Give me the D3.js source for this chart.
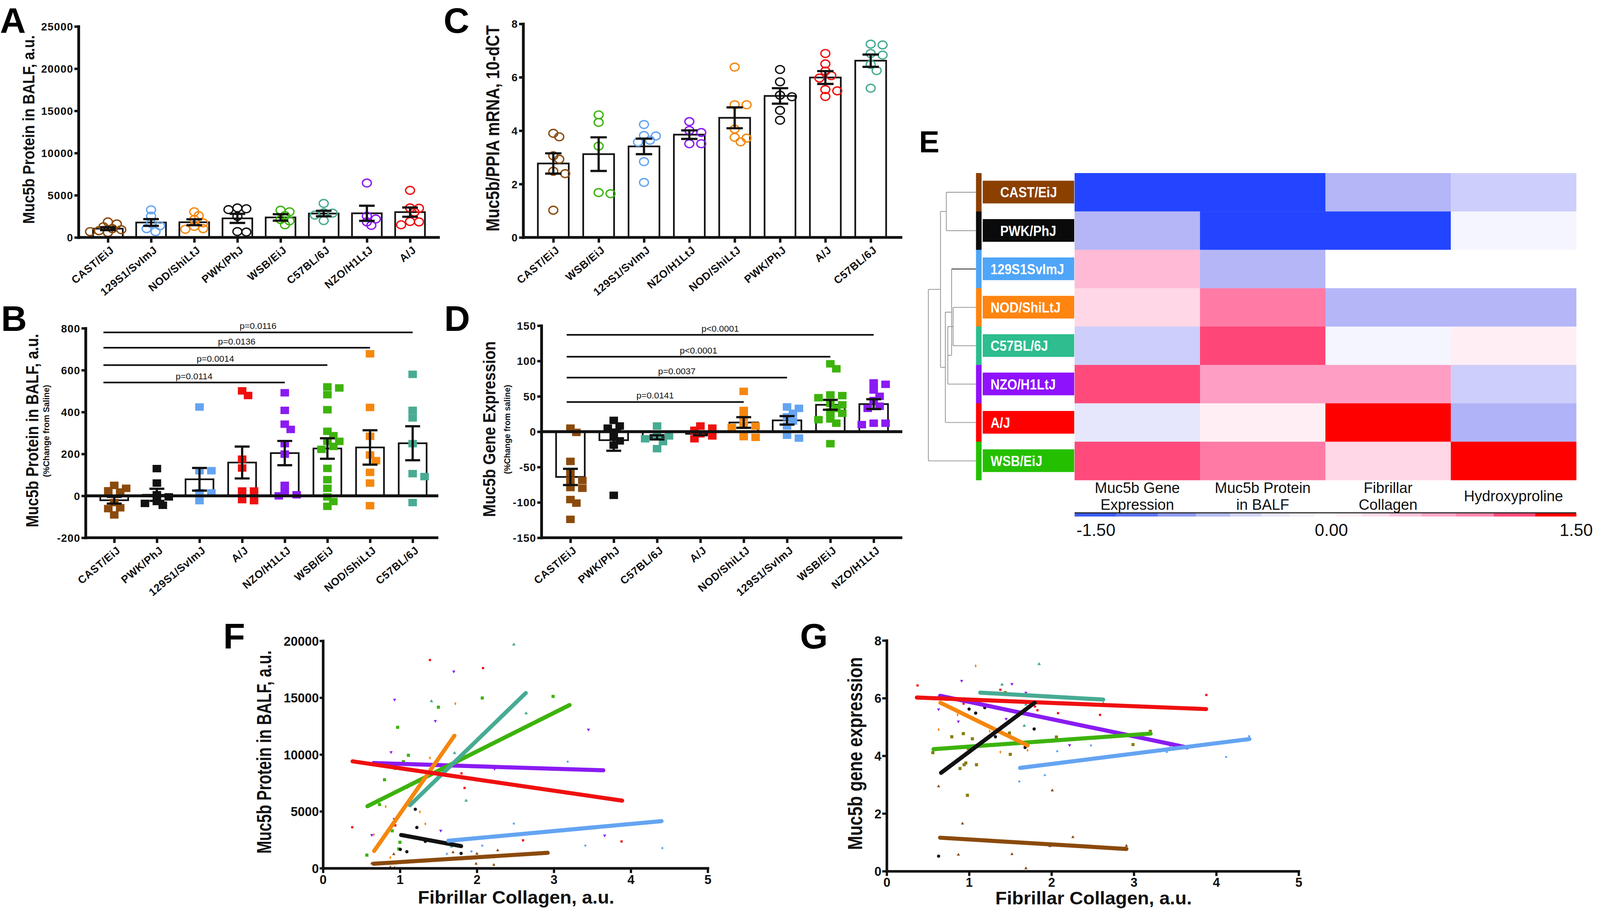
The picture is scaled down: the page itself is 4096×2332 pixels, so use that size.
<!DOCTYPE html>
<html>
<head>
<meta charset="utf-8">
<script src="https://cdn.jsdelivr.net/npm/d3@7"></script>
<style>
    html, body { margin: 0; padding: 0; background: #fff; overflow: hidden; }
    svg { display: block; }
    text { font-family: "Liberation Sans", Arial, Helvetica, sans-serif; }
</style>
</head>
<body>
<svg id="figure"></svg>
<script>
"use strict";

// ---------------------------------------------------------------- data
// A: Muc5b protein in BALF (a.u.)
const aOrder = ["CAST/EiJ", "129S1/SvImJ", "NOD/ShiLtJ", "PWK/PhJ", "WSB/EiJ", "C57BL/6J", "NZO/H1LtJ", "A/J"];
const aMean = [1040, 1770, 1800, 2260, 2370, 2830, 2860, 3000];
const aSem = [180, 400, 350, 540, 380, 325, 900, 550];
const aPoints = [
    [1840, 1600, 1270, 1040, 920, 800, 690, 580],
    [3270, 2530, 1660, 1380, 1040, 690],
    [3040, 2580, 2120, 1730, 1310, 970, 1040],
    [3500, 3400, 3300, 2500, 700, 640],
    [3230, 3040, 2580, 2120, 1960, 1500],
    [4030, 2930, 2880, 2650, 2000],
    [6450, 2530, 2190, 1840, 1430],
    [5580, 3500, 3460, 3000, 1890, 1840, 1500]
];
const aTicks = [0, 5000, 10000, 15000, 20000, 25000];

// C: Muc5b/PPIA mRNA, 10-dCT
const cOrder = ["CAST/EiJ", "WSB/EiJ", "129S1/SvImJ", "NZO/H1LtJ", "NOD/ShiLtJ", "PWK/PhJ", "A/J", "C57BL/6J"];
const cMean = [2.77, 3.12, 3.41, 3.85, 4.48, 5.30, 5.99, 6.62];
const cSem = [0.38, 0.63, 0.29, 0.16, 0.39, 0.29, 0.24, 0.23];
const cPoints = [
    [3.90, 3.77, 3.06, 2.93, 2.48, 2.39, 1.02],
    [4.59, 4.31, 3.42, 1.64, 1.68],
    [4.23, 3.80, 3.82, 3.57, 3.64, 2.84, 2.06],
    [4.34, 4.01, 3.93, 3.51, 3.51],
    [6.38, 4.97, 4.97, 4.06, 3.75, 3.72, 3.58],
    [6.29, 5.83, 5.33, 5.27, 4.76, 4.39],
    [6.89, 6.50, 6.23, 6.06, 5.97, 5.54, 5.49, 5.28],
    [7.21, 7.24, 6.83, 6.89, 6.48, 6.25, 5.59]
];
const cTicks = [0, 2, 4, 6, 8];

// B: Muc5b protein, % change from saline
const bOrder = ["CAST/EiJ", "PWK/PhJ", "129S1/SvImJ", "A/J", "NZO/H1LtJ", "WSB/EiJ", "NOD/ShiLtJ", "C57BL/6J"];
const bMean = [-21, 5, 79, 159, 204, 226, 231, 251];
const bSem = [16, 29, 54, 76, 58, 49, 82, 81];
const bPoints = [
    [50, 36, 24, 18, -32, -57, -61, -91],
    [130, 61, 5, -5, -27, -36, -45],
    [424, 120, 120, 14, 15, -23],
    [501, 479, 175, 133, 23, 23, -23, -18],
    [492, 408, 342, 317, 249, 199, 50, 18, 5, 0],
    [520, 515, 483, 411, 308, 287, 260, 260, 236, 222, 131, 77, 36, -5, -27, -50],
    [678, 422, 284, 195, 168, 112, 61, -47],
    [580, 408, 372, 249, 106, 92, -32]
];
const bTicks = [-200, 0, 200, 400, 600, 800];
const bSigLabels = ["p=0.0116", "p=0.0136", "p=0.0014", "p=0.0114"];
const bSigTo = ["C57BL/6J", "NOD/ShiLtJ", "WSB/EiJ", "NZO/H1LtJ"];
const bSigLevel = [780, 707, 624, 541];

// D: Muc5b gene expression, % change from saline
const dOrder = ["CAST/EiJ", "PWK/PhJ", "C57BL/6J", "A/J", "NOD/ShiLtJ", "129S1/SvImJ", "WSB/EiJ", "NZO/H1LtJ"];
const dMean = [-64, -12, -8, -3, 13, 16, 38, 39];
const dSem = [11.5, 15, 3, 2, 7.5, 6, 7, 7];
const dPoints = [
    [5, -1, -42, -58, -69, -69, -80, -79, -96, -101, -124],
    [16, 8, 5, -13, -7, -19, -90],
    [8, -6, -6, -10, -14, -24],
    [5, 8, 2, -3, -6, -10],
    [57, 30, 20, 9, 8, 6, -7, -8],
    [33, 35, 26, 21, 15, 8, -5, -9],
    [96, 89, 52, 51, 48, 40, 38, 33, 26, 28, 18, 17, 12, -17],
    [69, 67, 59, 50, 44, 36, 33, 12, 12, 10]
];
const dTicks = [-150, -100, -50, 0, 50, 100, 150];
const dSigLabels = ["p<0.0001", "p<0.0001", "p=0.0037", "p=0.0141"];
const dSigTo = ["NZO/H1LtJ", "WSB/EiJ", "129S1/SvImJ", "NOD/ShiLtJ"];
const dSigLevel = [137, 106, 76.5, 42];

// E: heat map (z-scores)
const heatCols = ["Muc5b Gene|Expression", "Muc5b Protein|in BALF", "Fibrillar|Collagen", "Hydroxyproline"];
const heatRows = ["CAST/EiJ", "PWK/PhJ", "129S1/SvImJ", "NOD/ShiLtJ", "C57BL/6J", "NZO/H1LtJ", "A/J", "WSB/EiJ"];
const heatRowLabels = ["CAST/EiJ", "PWK/PhJ", "129S1SvImJ", "NOD/ShiLtJ", "C57BL/6J", "NZO/H1LtJ", "A/J", "WSB/EiJ"];
const heatValues = [
    [-1.5, -1.5, -0.6, -0.4],
    [-0.6, -1.5, -1.5, -0.08],
    [0.42, -0.6, 0, 0],
    [0.25, 0.8, -0.6, -0.6],
    [-0.4, 1.1, -0.08, 0.1],
    [1.08, 0.6, 0.6, -0.4],
    [-0.2, 0.1, 1.5, -0.62],
    [1.08, 0.8, 0.25, 1.5]
];
// dendrogram: children are leaf names or indices of earlier merges
const dendroMerges = [
    ["CAST/EiJ", "PWK/PhJ"],
    ["NOD/ShiLtJ", "C57BL/6J"],
    [1, "NZO/H1LtJ"],
    ["129S1/SvImJ", 2],
    [3, "A/J"],
    [0, 4],
    [5, "WSB/EiJ"]
];
const dendroHeights = [0.623, 0.481, 0.592, 0.512, 0.644, 0.745, 1.0];
const cbBreaks = [-1.5, -1.252, -1.003, -0.775, -0.57, -0.383, -0.214, -0.064, 0.066, 0.219, 0.384, 0.576, 0.781, 1.007, 1.256, 1.5];
const cbTicks = [-1.5, 0, 1.5];

// F: Muc5b protein vs fibrillar collagen, points [collagen, protein]
const fStrains = ["NZO/H1LtJ", "WSB/EiJ", "C57BL/6J", "NOD/ShiLtJ", "A/J", "PWK/PhJ", "129S1/SvImJ", "CAST/EiJ"];
const fPoints = [
    [[1.70, 17300], [0.93, 14820], [1.46, 12950], [3.45, 12190], [0.885, 10210], [0.925, 4320], [0.635, 2920], [1.53, 3300], [3.66, 2870], [2.23, 8730]],
    [[2.07, 14970], [2.99, 15110], [1.50, 14160], [0.97, 12390], [1.11, 9930], [1.045, 9370], [0.94, 8780], [0.80, 7780], [1.51, 8190], [3.20, 8740], [0.735, 5600], [0.95, 4290], [0.90, 3290], [1.0, 2280], [0.985, 1690], [0.57, 1150]],
    [[2.48, 19670], [1.41, 14690], [2.64, 13620], [1.71, 10130], [1.86, 5940], [1.67, 1910]],
    [[1.72, 14470], [1.39, 9700], [0.815, 5420], [1.26, 4950], [1.33, 3900], [1.10, 7090], [0.66, 2940], [0.875, 930]],
    [[1.39, 18310], [2.08, 17600], [1.80, 8340], [1.84, 7060], [0.38, 3600], [0.94, 3760], [2.60, 2450], [3.88, 2350]],
    [[1.20, 5180], [1.22, 3580], [1.005, 1650], [1.09, 1450], [1.795, 1300], [1.33, 2360]],
    [[3.18, 9370], [2.48, 3920], [3.41, 1990], [2.07, 1980], [1.93, 1470], [1.61, 1270], [4.41, 1770]],
    [[0.92, 1230], [1.69, 1400], [2.0, 1270], [2.27, 1570], [1.99, 390], [2.22, 290], [0.635, 420], [0.875, 80], [0.93, 30], [1.52, 680]]
];
// fitted lines [x1, y1, x2, y2]
const fLines = [
    [0.657, 9250, 3.643, 8610],
    [0.578, 5450, 3.205, 14350],
    [1.13, 5540, 2.636, 15410],
    [0.665, 1520, 1.708, 11650],
    [0.385, 9400, 3.888, 5940],
    [1.016, 2920, 1.795, 1940],
    [1.629, 2410, 4.40, 4140],
    [0.657, 390, 2.92, 1350]
];
const fTicksY = [0, 5000, 10000, 15000, 20000];

// G: Muc5b gene expression vs fibrillar collagen
const gStrains = ["NZO/H1LtJ", "WSB/EiJ", "C57BL/6J", "A/J", "NOD/ShiLtJ", "PWK/PhJ", "129S1/SvImJ", "CAST/EiJ"];
const gPoints = [
    [[0.91, 6.60], [1.52, 6.49], [1.69, 6.19], [0.63, 5.61], [0.87, 5.19], [1.45, 5.28], [2.22, 4.37], [3.44, 4.36], [3.65, 4.31]],
    [[0.73, 5.96], [1.44, 6.19], [1.49, 4.79], [0.93, 4.77], [1.04, 4.59], [0.79, 4.66], [0.56, 4.11], [0.99, 4.25], [0.96, 3.75], [0.94, 3.69], [1.09, 3.69], [0.89, 3.56], [1.50, 4.05], [2.06, 4.65], [2.99, 4.39], [3.20, 4.85], [0.98, 2.63]],
    [[1.85, 7.18], [1.40, 6.47], [1.69, 5.78], [2.63, 5.82], [1.67, 5.04]],
    [[0.374, 6.44], [1.38, 6.29], [0.934, 5.81], [1.80, 5.71], [1.83, 5.58], [2.08, 5.48], [2.59, 5.42], [3.88, 6.11]],
    [[1.08, 7.12], [0.63, 4.91], [0.86, 5.42], [1.25, 4.85], [1.38, 4.13], [1.71, 4.19], [0.82, 5.96]],
    [[1.21, 6.19], [1.0, 5.62], [1.08, 5.48], [1.19, 5.67], [1.32, 4.66], [1.79, 4.93], [1.68, 4.29], [0.63, 0.52]],
    [[4.40, 4.68], [3.18, 4.59], [2.48, 4.36], [2.07, 4.16], [3.40, 4.13], [4.12, 3.96], [1.92, 3.33], [1.61, 3.11]],
    [[0.63, 2.94], [2.01, 2.80], [0.92, 1.65], [2.26, 1.18], [2.91, 0.88], [1.98, 0.87], [0.87, 0.57], [1.52, 0.59], [1.69, 0.10]]
];
const gLines = [
    [0.648, 6.08, 3.646, 4.29],
    [0.568, 4.23, 3.204, 4.77],
    [1.135, 6.19, 2.628, 5.95],
    [0.366, 6.02, 3.877, 5.62],
    [0.652, 5.84, 1.711, 4.36],
    [0.66, 3.41, 1.796, 5.84],
    [1.619, 3.58, 4.403, 4.58],
    [0.648, 1.16, 2.91, 0.77]
];
const gTicksY = [0, 2, 4, 6, 8];
const collagenTicks = [0, 1, 2, 3, 4, 5];

// ---------------------------------------------------------------- styles
const plotColor = {
    "CAST/EiJ": "#8b4a0c", "PWK/PhJ": "#111111", "129S1/SvImJ": "#64a4f2", "NOD/ShiLtJ": "#f5870f",
    "C57BL/6J": "#48ab93", "NZO/H1LtJ": "#8a1bf2", "A/J": "#ef1010", "WSB/EiJ": "#3db30e"
};
const boxColor = {
    "CAST/EiJ": "#8b4000", "PWK/PhJ": "#0a0a0a", "129S1/SvImJ": "#4fa5f7", "NOD/ShiLtJ": "#ff8410",
    "C57BL/6J": "#2dbd8e", "NZO/H1LtJ": "#8e12fb", "A/J": "#ff0000", "WSB/EiJ": "#24c000"
};
const cbColors = ["#3a5cf0", "#5b74f0", "#8c9af2", "#b4bcf6", "#d2d4f8", "#e6e6fa", "#f2f2fb", "#ffffff",
    "#ffeef4", "#ffdcea", "#ffc4dc", "#ffa8c8", "#ff88b0", "#ff4a78", "#ff0000"];
const ink = "#111";

// the reference is 4300 x 2448, the window is 0.952 of that
const svg = d3.select("#figure")
    .attr("width", 4096)
    .attr("height", 2332)
    .attr("viewBox", "0 0 4300 2448");

/**
 * simple beeswarm: offsets so markers of a group do not sit on top of each other
 */
function swarm(vals, y, minD, step) {
    const idx = d3.range(vals.length).sort((a, b) => d3.descending(vals[a], vals[b]));
    const off = new Array(vals.length).fill(0);
    const placed = [];
    idx.forEach(i => {
        const py = y(vals[i]);
        for (let k = 0; k < 40; k++) {
            const o = (k % 2 ? 1 : -1) * Math.ceil(k / 2) * step;
            if (placed.every(p => Math.hypot(p[0] - o, p[1] - py) >= minD)) {
                off[i] = o;
                placed.push([o, py]);
                break;
            }
        }
    });
    return off;
}

function styleAxis(ax, fs, width) {
    ax.select(".domain").attr("stroke", ink).attr("stroke-width", width).attr("stroke-linecap", "square");
    ax.selectAll(".tick line").attr("stroke", ink).attr("stroke-width", width - 1);
    ax.selectAll(".tick text").attr("fill", ink).attr("font-size", fs).attr("font-weight", "bold")
        .style("font-family", '"Liberation Sans", Arial, sans-serif');
}

/**
 * rotated axis title, squeezed along its length to the measured span
 */
function yLabel(txt, bx, cy, fs, len, weight) {
    const t = svg.append("text")
        .attr("text-anchor", "middle")
        .attr("font-size", fs)
        .attr("font-weight", weight || "bold")
        .attr("fill", ink)
        .text(txt);
    const natural = t.node().getComputedTextLength() || len;
    t.attr("transform", `translate(${bx},${cy}) rotate(-90) scale(${len / natural},1)`);
}

/** ==============================================================================
 * bar + dot panels (A, B, C, D)
 ================================================================================ */
function barPanel(p) {
    const g = svg.append("g");
    const x = d3.scalePoint().domain(p.order).range([p.x0, p.x1]);
    const y = d3.scaleLinear().domain(p.domain).range([p.yBottom, p.yTop]);
    const base = y(0);

    g.append("g").selectAll("rect").data(p.order).join("rect")
        .attr("x", d => x(d) - p.barW / 2)
        .attr("width", p.barW)
        .attr("y", (d, i) => Math.min(y(p.mean[i]), base))
        .attr("height", (d, i) => Math.abs(y(p.mean[i]) - base))
        .attr("fill", "#fff")
        .attr("stroke", ink)
        .attr("stroke-width", 4.5);

    p.order.forEach((s, i) => {
        const off = swarm(p.points[i], y, p.minD, p.step);
        const grp = g.append("g");
        if (p.open) {
            grp.selectAll("ellipse").data(p.points[i]).join("ellipse")
                .attr("cx", (d, j) => x(s) + off[j])
                .attr("cy", d => y(d))
                .attr("rx", 12).attr("ry", 10.5)
                .attr("fill", "none")
                .attr("stroke", plotColor[s])
                .attr("stroke-width", 3.6);
        } else {
            grp.selectAll("rect").data(p.points[i]).join("rect")
                .attr("x", (d, j) => x(s) + off[j] - 11.5)
                .attr("y", d => y(d) - 10)
                .attr("width", 23).attr("height", 20)
                .attr("fill", plotColor[s]);
        }
    });

    // mean +- SEM
    const eb = g.append("g").attr("stroke", ink).attr("stroke-width", 6);
    p.order.forEach((s, i) => {
        const cx = x(s), hi = y(p.mean[i] + p.sem[i]), lo = y(p.mean[i] - p.sem[i]);
        eb.append("line").attr("x1", cx).attr("x2", cx).attr("y1", hi).attr("y2", lo);
        [hi, lo].forEach(v => eb.append("line")
            .attr("x1", cx - p.capW / 2).attr("x2", cx + p.capW / 2)
            .attr("y1", v).attr("y2", v));
    });

    // zero line for % change panels
    if (p.domain[0] < 0) {
        g.append("line")
            .attr("x1", p.axisLeft).attr("x2", p.right)
            .attr("y1", base).attr("y2", base)
            .attr("stroke", ink).attr("stroke-width", 8);
    }

    // significance brackets
    if (p.sigLabels) {
        const sg = g.append("g");
        p.sigLabels.forEach((lab, i) => {
            const x1 = x(p.order[0]) + p.sigStart, x2 = x(p.sigTo[i]), yy = y(p.sigLevel[i]);
            sg.append("line").attr("x1", x1).attr("x2", x2).attr("y1", yy).attr("y2", yy)
                .attr("stroke", ink).attr("stroke-width", 4.5);
            sg.append("text").attr("x", (x1 + x2) / 2).attr("y", yy - 9)
                .attr("text-anchor", "middle").attr("font-size", 24).attr("fill", ink)
                .text(lab);
        });
    }

    // axes
    g.append("line")
        .attr("x1", p.axisLeft - 3).attr("x2", p.right)
        .attr("y1", p.yBottom).attr("y2", p.yBottom)
        .attr("stroke", ink).attr("stroke-width", 7.5);

    const ay = g.append("g").attr("transform", `translate(${p.axisLeft},0)`)
        .call(d3.axisLeft(y).tickValues(p.ticks).tickSize(11).tickPadding(3).tickSizeOuter(0)
            .tickFormat(d => String(d)));
    styleAxis(ay, 29, 7.5);
    ay.selectAll(".tick text").attr("letter-spacing", 1.2).attr("dy", "0.36em");

    const axb = g.append("g").attr("transform", `translate(0,${p.yBottom})`)
        .call(d3.axisBottom(x).tickSize(14).tickSizeOuter(0));
    styleAxis(axb, 29, 7.5);
    axb.select(".domain").remove();
    axb.selectAll(".tick text")
        .attr("x", 0).attr("y", 0).attr("dy", 0)
        .attr("text-anchor", "end")
        .attr("letter-spacing", 1)
        .attr("transform", "translate(18,37) rotate(-40)");
}

barPanel({
    order: aOrder, mean: aMean, sem: aSem, points: aPoints, ticks: aTicks, domain: [0, 25000],
    x0: 290, x1: 1102, yBottom: 638, yTop: 71, axisLeft: 211, right: 1182,
    barW: 80, capW: 42, open: true, minD: 15, step: 12
});
barPanel({
    order: cOrder, mean: cMean, sem: cSem, points: cPoints, ticks: cTicks, domain: [0, 8],
    x0: 1487, x1: 2340, yBottom: 638, yTop: 64, axisLeft: 1406, right: 2425,
    barW: 83, capW: 44, open: true, minD: 18, step: 16
});
barPanel({
    order: bOrder, mean: bMean, sem: bSem, points: bPoints, ticks: bTicks, domain: [-200, 800],
    x0: 307, x1: 1109, yBottom: 1445, yTop: 882, axisLeft: 230, right: 1178,
    barW: 75, capW: 40, open: false, minD: 18, step: 16,
    sigLabels: bSigLabels, sigTo: bSigTo, sigLevel: bSigLevel, sigStart: -29
});
barPanel({
    order: dOrder, mean: dMean, sem: dSem, points: dPoints, ticks: dTicks, domain: [-150, 150],
    x0: 1533, x1: 2348, yBottom: 1445, yTop: 875, axisLeft: 1455, right: 2425,
    barW: 77, capW: 40, open: false, minD: 18, step: 16,
    sigLabels: dSigLabels, sigTo: dSigTo, sigLevel: dSigLevel, sigStart: -10
});

yLabel("Muc5b Protein in BALF, a.u.", 92, 348, 44, 507);
yLabel("Muc5b/PPIA mRNA, 10-dCT", 1342, 345, 50, 554);
yLabel("Muc5b Protein in BALF, a.u.", 103, 1157, 47, 520);
yLabel("(%Change from Saline)", 132, 1158, 24, 248);
yLabel("Muc5b Gene Expression", 1331, 1153, 46, 472);
yLabel("(%Change from saline)", 1371, 1154, 24, 240);

/** ==============================================================================
 * heat map with dendrogram (E)
 ================================================================================ */
(function () {
    const g = svg.append("g");
    const col = d3.scaleBand().domain(heatCols).range([2888, 4236]);
    const row = d3.scaleBand().domain(heatRows).range([465, 1290]);
    const heat = d3.scaleLinear()
        .domain([-1.5, -0.6, 0, 0.6, 1.1, 1.5])
        .range(["#2445ff", "#b4b6f8", "#ffffff", "#ff9ec4", "#ff4678", "#ff0000"])
        .clamp(true);

    heatRows.forEach((r, i) => {
        g.append("g").selectAll("rect").data(heatValues[i]).join("rect")
            .attr("x", (d, j) => col(heatCols[j]))
            .attr("y", row(r))
            .attr("width", col.bandwidth() + 0.5)
            .attr("height", row.bandwidth() + 0.5)
            .attr("fill", d => heat(d));
    });

    // coloured strip and strain boxes
    g.append("g").selectAll("rect").data(heatRows).join("rect")
        .attr("x", 2623).attr("width", 15)
        .attr("y", d => row(d)).attr("height", row.bandwidth() + 0.5)
        .attr("fill", d => boxColor[d]);
    g.append("g").selectAll("rect").data(heatRows).join("rect")
        .attr("x", 2641).attr("width", 246)
        .attr("y", d => row(d) + row.bandwidth() / 2 - 31).attr("height", 61)
        .attr("fill", d => boxColor[d]);
    g.append("g").selectAll("text").data(heatRows).join("text")
        .attr("transform", (d, i) => `translate(${i < 2 ? 2688 : 2662},${row(d) + row.bandwidth() / 2 + 14}) scale(0.87,1)`)
        .attr("font-size", 39)
        .attr("font-weight", "bold")
        .attr("fill", "#fff")
        .text((d, i) => heatRowLabels[i]);

    // dendrogram
    const hx = d3.scaleLinear().domain([0, 1]).range([2623, 2495]);
    const nodeY = [];
    const yOf = c => typeof c === "number" ? nodeY[c] : row(c) + row.bandwidth() / 2;
    const xOf = c => typeof c === "number" ? hx(dendroHeights[c]) : hx(0);
    const dg = g.append("g").attr("stroke", "#9a9a9a").attr("stroke-width", 2.2).attr("fill", "none");
    dendroMerges.forEach((m, i) => {
        const nx = hx(dendroHeights[i]);
        const y1 = yOf(m[0]), y2 = yOf(m[1]);
        nodeY[i] = (y1 + y2) / 2;
        dg.append("line").attr("x1", nx).attr("x2", nx).attr("y1", y1).attr("y2", y2);
        m.forEach(c => dg.append("line")
            .attr("x1", nx).attr("x2", xOf(c))
            .attr("y1", yOf(c)).attr("y2", yOf(c))
            .attr("stroke", c === "129S1/SvImJ" ? "#333" : null));
    });

    // column labels
    heatCols.forEach(c => {
        const lines = c.split("|");
        const t = g.append("text")
            .attr("x", col(c) + col.bandwidth() / 2)
            .attr("text-anchor", "middle")
            .attr("font-size", 40)
            .attr("fill", ink);
        if (lines.length === 1) {
            t.attr("y", 1347).text(lines[0]);
        } else {
            lines.forEach((l, k) => t.append("tspan")
                .attr("x", col(c) + col.bandwidth() / 2)
                .attr("y", 1325 + k * 45)
                .text(l));
        }
    });

    // colour key
    const cb = d3.scaleLinear().domain([-1.5, 1.5]).range([2888, 4236]);
    g.append("g").selectAll("rect").data(cbColors).join("rect")
        .attr("x", (d, i) => cb(cbBreaks[i]))
        .attr("width", (d, i) => cb(cbBreaks[i + 1]) - cb(cbBreaks[i]) + 0.5)
        .attr("y", 1379).attr("height", 9)
        .attr("fill", d => d);
    g.append("line").attr("x1", 2888).attr("x2", 4236).attr("y1", 1378).attr("y2", 1378)
        .attr("stroke", ink).attr("stroke-width", 2.5);
    g.append("g").selectAll("text").data(cbTicks).join("text")
        .attr("x", (d, i) => cb(d) + [5, 16, 0][i])
        .attr("y", 1440)
        .attr("text-anchor", (d, i) => ["start", "middle", "middle"][i])
        .attr("font-size", 46)
        .attr("fill", ink)
        .text(d => d3.format(".2f")(d).replace("−", "-"));
})();

/** ==============================================================================
 * scatter + regression panels (F, G)
 ================================================================================ */
const markShape = {
    "CAST/EiJ": d3.symbolTriangle, "PWK/PhJ": d3.symbolCircle, "129S1/SvImJ": d3.symbolCircle,
    "NOD/ShiLtJ": d3.symbolDiamond, "C57BL/6J": d3.symbolTriangle, "NZO/H1LtJ": d3.symbolTriangle,
    "A/J": d3.symbolSquare, "WSB/EiJ": d3.symbolSquare
};
const markSize = {
    "CAST/EiJ": 32, "PWK/PhJ": 60, "129S1/SvImJ": 26, "NOD/ShiLtJ": 26,
    "C57BL/6J": 38, "NZO/H1LtJ": 32, "A/J": 36, "WSB/EiJ": 70
};

function scatterPanel(p) {
    const g = svg.append("g");
    const x = d3.scaleLinear().domain([0, 5]).range([p.x0, p.x1]);
    const y = d3.scaleLinear().domain(p.yDomain).range([p.y0, p.y1]);

    p.strains.forEach((s, i) => {
        g.append("g").selectAll("path").data(p.points[i]).join("path")
            .attr("transform", d => `translate(${x(d[0])},${y(d[1])})${s === "NZO/H1LtJ" ? " rotate(180)" : ""}`)
            .attr("d", d3.symbol().type(markShape[s]).size(markSize[s]))
            .attr("fill", s === "WSB/EiJ" && p.olive ? "#8a7c12" : plotColor[s]);
    });

    g.append("g").selectAll("line").data(p.lines).join("line")
        .attr("x1", d => x(d[0])).attr("y1", d => y(d[1]))
        .attr("x2", d => x(d[2])).attr("y2", d => y(d[3]))
        .attr("stroke", (d, i) => plotColor[p.strains[i]])
        .attr("stroke-width", 11)
        .attr("stroke-linecap", "round");

    const ax = g.append("g").attr("transform", `translate(0,${p.y0})`)
        .call(d3.axisBottom(x).tickValues(collagenTicks).tickSize(13).tickSizeOuter(0).tickPadding(5)
            .tickFormat(d3.format("d")));
    styleAxis(ax, 34, 7);
    const ay = g.append("g").attr("transform", `translate(${p.x0},0)`)
        .call(d3.axisLeft(y).tickValues(p.yTicks).tickSize(p.yTick).tickSizeOuter(0).tickPadding(2)
            .tickFormat(d => String(d)));
    styleAxis(ay, 34, 7);
    ay.selectAll(".tick text").attr("dy", "0.36em");
}

scatterPanel({
    strains: fStrains, points: fPoints, lines: fLines, yDomain: [0, 20000], yTicks: fTicksY,
    x0: 868, x1: 1902, y0: 2333, y1: 1722, yTick: 9, olive: false
});
scatterPanel({
    strains: gStrains, points: gPoints, lines: gLines, yDomain: [0, 8], yTicks: gTicksY,
    x0: 2383, x1: 3490, y0: 2341, y1: 1721, yTick: 12, olive: true
});

yLabel("Muc5b Protein in BALF, a.u.", 729, 2021, 54, 546);
yLabel("Muc5b gene expression", 2317, 2025, 54, 518);
[[1387, 2428], [2939, 2430]].forEach(pos => svg.append("text")
    .attr("x", pos[0]).attr("y", pos[1])
    .attr("text-anchor", "middle")
    .attr("font-size", 48).attr("font-weight", "bold").attr("fill", ink)
    .attr("textLength", 528).attr("lengthAdjust", "spacingAndGlyphs")
    .text("Fibrillar Collagen, a.u."));

// panel letters
const letters = ["A", "B", "C", "D", "E", "F", "G"];
const letterPos = [[0, 88, 96], [3, 889, 96], [1192, 88, 96], [1194, 889, 96], [2470, 409, 82], [600, 1743, 96], [2150, 1743, 96]];
svg.append("g").selectAll("text").data(letters).join("text")
    .attr("x", (d, i) => letterPos[i][0])
    .attr("y", (d, i) => letterPos[i][1])
    .attr("font-size", (d, i) => letterPos[i][2])
    .attr("font-weight", "bold")
    .attr("fill", "#000")
    .text(d => d);
</script>
</body>
</html>
